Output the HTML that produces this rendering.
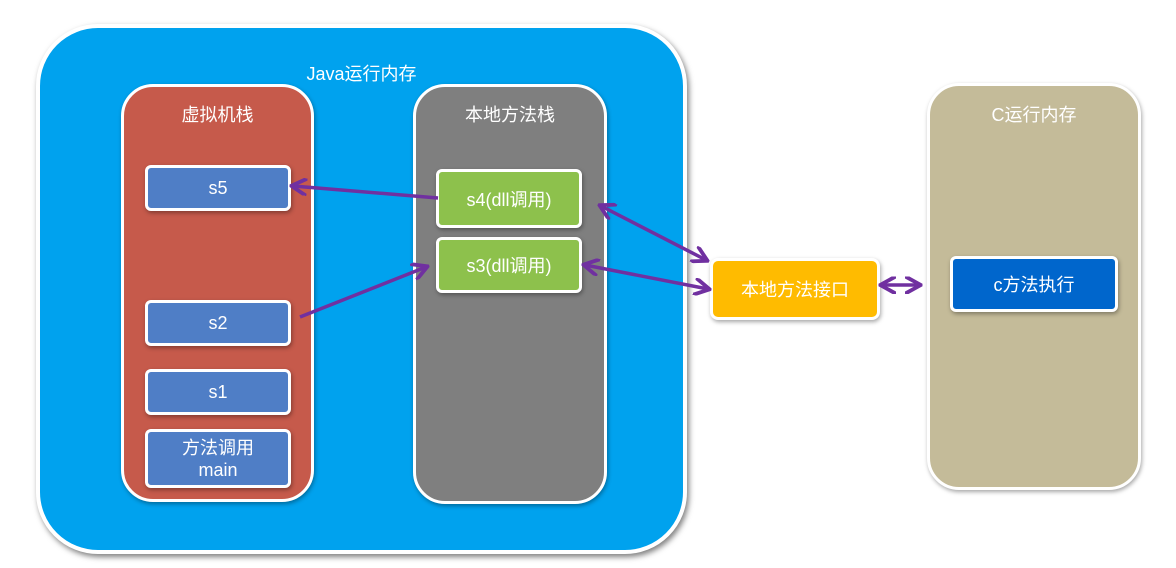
<!DOCTYPE html>
<html><head><meta charset="utf-8"><style>
body{margin:0;width:1176px;height:568px;background:#fff;overflow:hidden;font-family:"Liberation Sans","Noto Sans CJK SC",sans-serif;position:relative}
.b{position:absolute;box-sizing:border-box;border:3px solid #fff;color:#fff;display:flex;align-items:center;justify-content:center;text-align:center;box-shadow:1px 2px 4px rgba(0,0,0,.35)}
.t{position:absolute;color:#fff;font-size:18px;text-align:center}
</style></head><body>
<div class="b" style="left:36px;top:24px;width:651px;height:530px;background:#00A2EE;border-radius:62px;border-width:4px;box-shadow:2px 3px 6px rgba(0,0,0,.5)"></div>
<div class="t" style="left:36px;top:60px;width:651px">Java运行内存</div>
<div class="b" style="left:121px;top:84px;width:193px;height:418px;background:#C65A4B;border-radius:32px"></div>
<div class="t" style="left:121px;top:101px;width:193px">虚拟机栈</div>
<div class="b" style="left:413px;top:84px;width:194px;height:420px;background:#7F7F7F;border-radius:32px"></div>
<div class="t" style="left:413px;top:101px;width:194px">本地方法栈</div>
<div class="b" style="left:927px;top:83px;width:214px;height:407px;background:#C4BB99;border-radius:32px"></div>
<div class="t" style="left:927px;top:101px;width:214px">C运行内存</div>
<div class="b" style="left:145px;top:165px;width:146px;height:46px;background:#4F7EC6;border-radius:6px;font-size:18px">s5</div>
<div class="b" style="left:145px;top:300px;width:146px;height:46px;background:#4F7EC6;border-radius:6px;font-size:18px">s2</div>
<div class="b" style="left:145px;top:369px;width:146px;height:46px;background:#4F7EC6;border-radius:6px;font-size:18px">s1</div>
<div class="b" style="left:145px;top:429px;width:146px;height:59px;background:#4F7EC6;border-radius:6px;font-size:18px;line-height:22px">方法调用<br>main</div>
<div class="b" style="left:436px;top:169px;width:146px;height:59px;background:#8DC14C;border-radius:6px;font-size:18px">s4(dll调用)</div>
<div class="b" style="left:436px;top:237px;width:146px;height:56px;background:#8DC14C;border-radius:6px;font-size:18px">s3(dll调用)</div>
<div class="b" style="left:710px;top:258px;width:170px;height:62px;background:#FFBB00;border-radius:8px;font-size:18px">本地方法接口</div>
<div class="b" style="left:950px;top:256px;width:168px;height:56px;background:#0066CC;border-radius:6px;font-size:18px">c方法执行</div>
<svg width="1176" height="568" style="position:absolute;left:0;top:0">
<defs><marker id="a" viewBox="0 0 10 10" refX="8" refY="5" markerWidth="5" markerHeight="5" orient="auto-start-reverse"><path d="M0,0 L9,5 L0,10" fill="none" stroke="#7030A0" stroke-width="2.2"/></marker></defs>
<g stroke="#7030A0" stroke-width="3.5" fill="none">
<line x1="438" y1="198" x2="293" y2="186" marker-end="url(#a)"/>
<line x1="300" y1="317" x2="426" y2="267" marker-end="url(#a)"/>
<line x1="601" y1="206" x2="706" y2="260" marker-start="url(#a)" marker-end="url(#a)"/>
<line x1="585" y1="265" x2="708" y2="289" marker-start="url(#a)" marker-end="url(#a)"/>
<line x1="882" y1="285" x2="919" y2="285" marker-start="url(#a)" marker-end="url(#a)"/>
</g></svg>
</body></html>
